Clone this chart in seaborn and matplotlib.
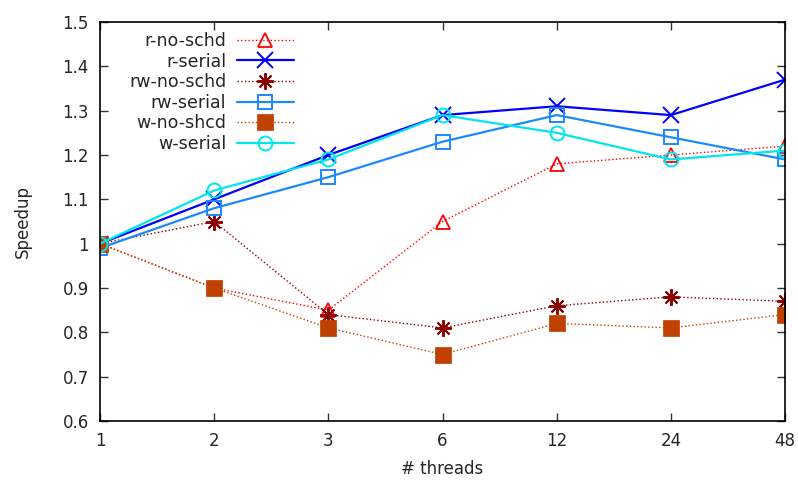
import matplotlib
matplotlib.use("Agg")
import matplotlib.pyplot as plt
import seaborn as sns
import numpy as np

threads = ["1", "2", "3", "6", "12", "24", "48"]
r_no_schd = [1.00, 0.90, 0.85, 1.05, 1.18, 1.20, 1.22]
r_serial = [1.00, 1.10, 1.20, 1.29, 1.31, 1.29, 1.37]
rw_no_schd = [1.00, 1.05, 0.84, 0.81, 0.86, 0.88, 0.87]
rw_serial = [0.99, 1.08, 1.15, 1.23, 1.29, 1.24, 1.19]
w_no_shcd = [1.00, 0.90, 0.81, 0.75, 0.82, 0.81, 0.84]
w_serial = [1.00, 1.12, 1.19, 1.29, 1.25, 1.19, 1.21]
y_ticks = [0.6, 0.7, 0.8, 0.9, 1.0, 1.1, 1.2, 1.3, 1.4, 1.5]
y_tick_labels = ["0.6", "0.7", "0.8", "0.9", "1", "1.1", "1.2", "1.3", "1.4", "1.5"]

sns.set_style("ticks")
plt.rcParams['font.family'] = ['DejaVu Sans']

fig = plt.figure(figsize=(7.98, 4.82), dpi=100)
ax = fig.add_axes([100/798, (482-421)/482, (785-100)/798, (421-22)/482])

xs = np.arange(len(threads))
series = [
    ("r-no-schd", r_no_schd, dict(color="#ff0000", ls=":", lw=1.0, marker="^", ms=10, mfc="none", mew=1.3)),
    ("r-serial", r_serial, dict(color="#0000ff", ls="-", lw=1.6, marker="x", ms=12, mew=1.4)),
    ("rw-no-schd", rw_no_schd, dict(color="#8b0000", ls=":", lw=1.0, marker=(8, 2, 0), ms=12, mew=1.4)),
    ("rw-serial", rw_serial, dict(color="#1e88ff", ls="-", lw=1.6, marker="s", ms=10.5, mfc="none", mew=1.4)),
    ("w-no-shcd", w_no_shcd, dict(color="#c04000", ls=":", lw=1.0, marker="s", ms=11, mew=0.5)),
    ("w-serial", w_serial, dict(color="#00e5ee", ls="-", lw=1.6, marker="o", ms=10, mfc="none", mew=1.4)),
]
for name, vals, st in series:
    sns.lineplot(x=xs, y=vals, ax=ax, label=name, linestyle=st["ls"], color=st["color"],
                 linewidth=st["lw"], marker=st["marker"], markersize=st["ms"],
                 markerfacecolor=st.get("mfc", st["color"]), markeredgecolor=st["color"],
                 markeredgewidth=st["mew"])

ax.set_xlim(0, len(threads) - 1)
ax.set_ylim(0.6, 1.5)
ax.set_xticks(xs)
ax.set_xticklabels(threads)
ax.set_yticks(y_ticks)
ax.set_yticklabels(y_tick_labels)
ax.tick_params(direction="in", length=6, width=1, top=True, right=True, labelsize=12, pad=8, color="#333333")
for sp in ax.spines.values():
    sp.set_visible(True)
    sp.set_linewidth(1.2)
    sp.set_color("black")
ax.set_xlabel("# threads", fontsize=12, labelpad=7)
ax.set_ylabel("Speedup", fontsize=12, labelpad=22)

leg = ax.legend(loc="upper left", bbox_to_anchor=(0.022, 1.01), frameon=False, markerfirst=False,
                fontsize=12.5, handlelength=3.3, labelspacing=0.15, handletextpad=0.6, borderpad=0.3)

fig.savefig("out.png", dpi=100)
